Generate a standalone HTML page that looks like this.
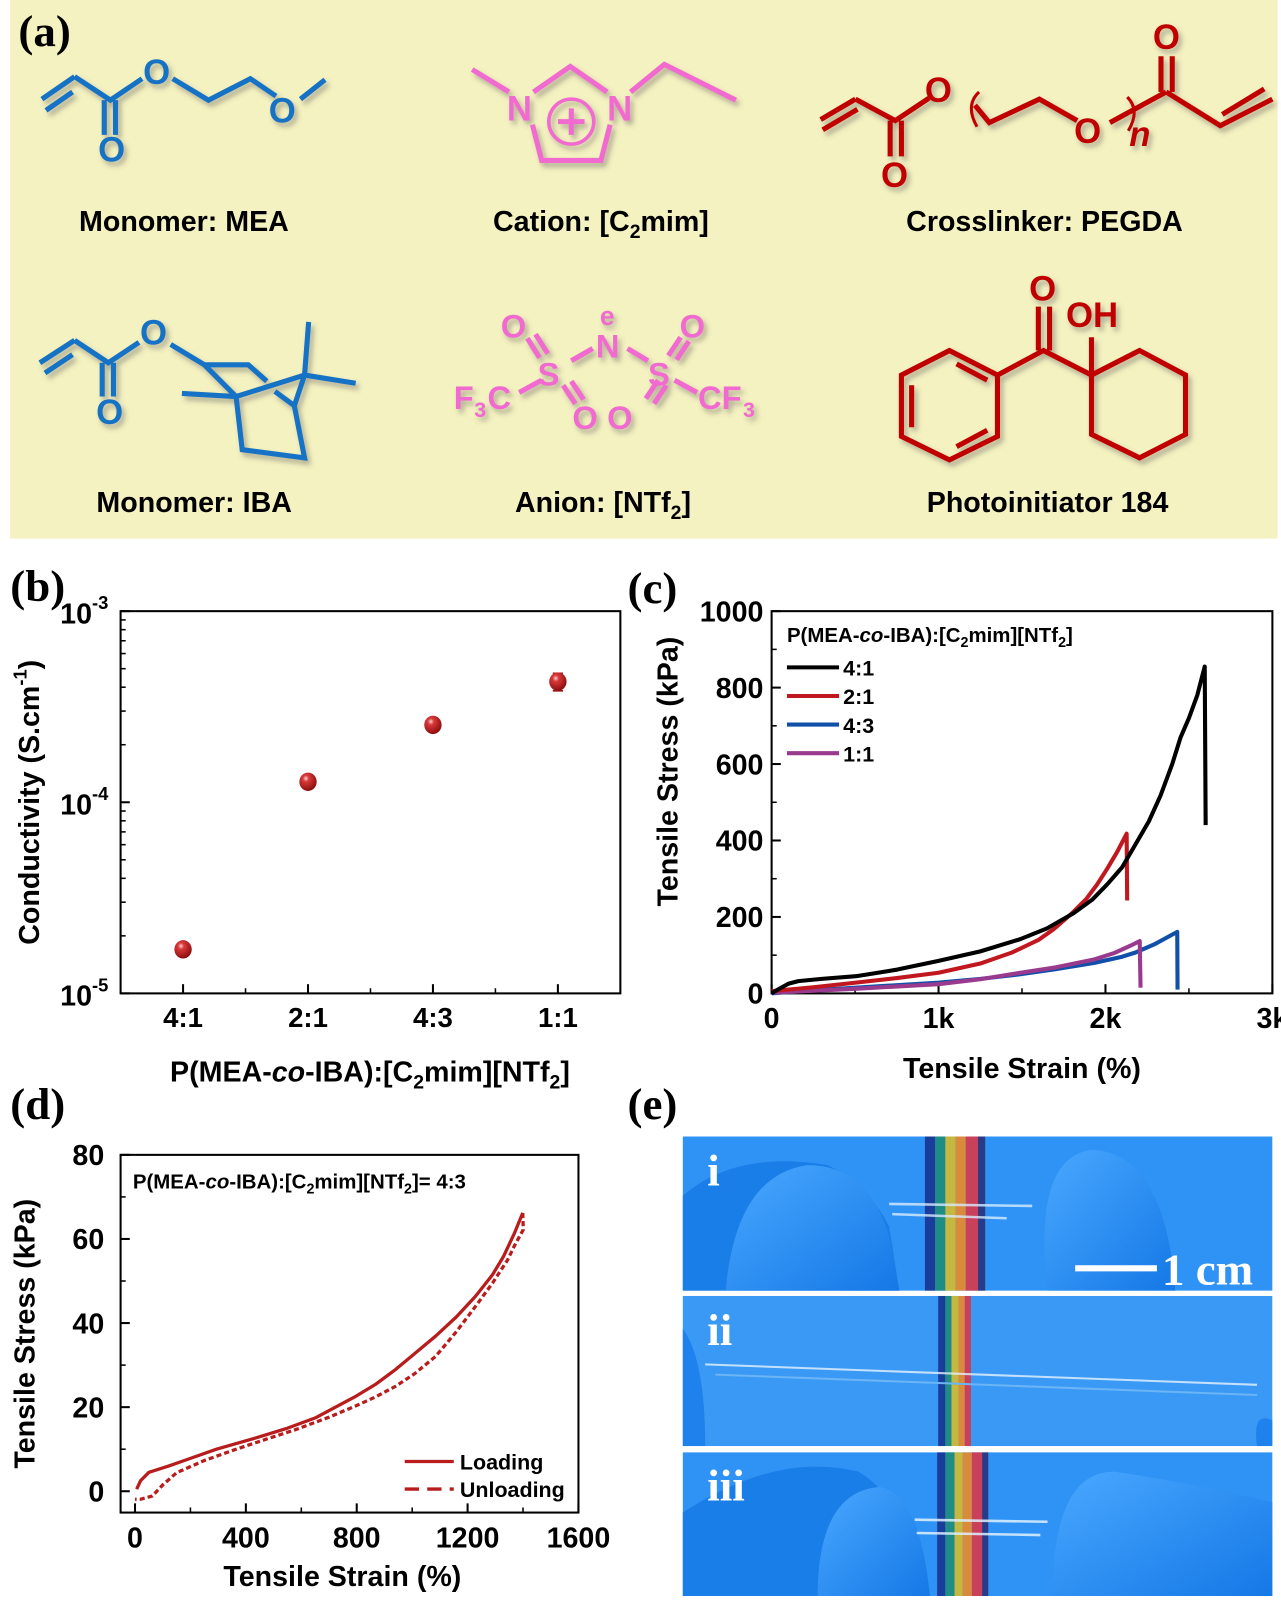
<!DOCTYPE html>
<html><head><meta charset="utf-8">
<style>
html,body{margin:0;padding:0;background:#fff;}
body{width:1281px;height:1596px;position:relative;overflow:hidden;font-family:"Liberation Sans",sans-serif;}
svg text{font-family:"Liberation Sans",sans-serif;}
.pl{font-family:"Liberation Serif",serif;font-weight:bold;}
</style></head>
<body>
<svg id="fig" width="1281" height="1596" viewBox="0 0 1281 1596" xmlns="http://www.w3.org/2000/svg">
<defs>
<radialGradient id="ball" cx="0.38" cy="0.32" r="0.7">
<stop offset="0" stop-color="#ffd0d0"/><stop offset="0.25" stop-color="#d83a3a"/><stop offset="1" stop-color="#8a0c0c"/>
</radialGradient>
<filter id="sh" x="-10%" y="-10%" width="130%" height="130%"><feDropShadow dx="3" dy="4" stdDeviation="2.5" flood-color="#555" flood-opacity="0.45"/></filter>
<linearGradient id="glv" x1="0" y1="0" x2="1" y2="1"><stop offset="0" stop-color="#4aa8ff"/><stop offset="1" stop-color="#1478e6"/></linearGradient>
<clipPath id="c1"><rect x="668" y="1112" width="577" height="151"/></clipPath>
<clipPath id="c2"><rect x="668" y="1268" width="577" height="147"/></clipPath>
<clipPath id="c3"><rect x="668" y="1421" width="577" height="142"/></clipPath>
</defs>
<g transform="scale(1.022)">
<!-- Panel a -->
<g>
<rect x="10" y="0" width="1240" height="527" fill="#f5f2c1"/>
<text class="pl" x="18" y="45" font-size="44">(a)</text>

<g stroke="#1472c4" stroke-width="5" fill="none" filter="url(#sh)">
<path d="M41 97 L73 75 M45 108 L71 90 M73 75 L108 98 L139 77 M102 98 L102 132 M113 98 L113 132 M169 77 L204 98 L245 77 L270 94 M294 97 L318 78"/>
<g fill="#1472c4" stroke="none" font-size="34" font-weight="bold"><text x="96" y="158">O</text><text x="140" y="82">O</text><text x="263" y="120">O</text></g>
</g>
<g stroke="#f06ad0" stroke-width="5" fill="none" filter="url(#sh)">
<path d="M462 68 L498 90 M522 90 L558 65 L594 90 M521 122 L530 157 L588 157 L597 122 M617 90 L650 63 L720 98"/>
<circle cx="559" cy="119" r="22" stroke-width="3.5"/>
<path d="M559 106 L559 132 M546 119 L572 119" stroke-width="5"/>
<g fill="#f06ad0" stroke="none" font-size="34" font-weight="bold"><text x="496" y="118">N</text><text x="594" y="118">N</text></g>
</g>
<g stroke="#c00000" stroke-width="5" fill="none" filter="url(#sh)">
<path d="M803 117 L837 97 M805 127 L839 107 M837 97 L876 118 L909 96 M871 118 L871 153 M882 118 L882 153 M954 103 L968 120 L1017 97 L1054 118 M1086 120 L1141 90 M1136 90 L1136 55 M1147 90 L1147 55 M1141 90 L1194 123 L1245 97 M1196 112 L1237 87"/>
<path d="M958 90 Q944 103 956 124 M1103 95 Q1116 108 1104 128" stroke-width="3"/>
<g fill="#c00000" stroke="none" font-size="34" font-weight="bold"><text x="862" y="183">O</text><text x="905" y="100">O</text><text x="1051" y="140">O</text><text x="1128" y="48">O</text><text x="1105" y="143" font-family="Liberation Serif" font-style="italic" font-weight="bold">n</text></g>
</g>
<g stroke="#1472c4" stroke-width="5" fill="none" filter="url(#sh)">
<path d="M39 355 L73 333 M44 365 L71 347 M73 333 L106 355 L136 335 M100 355 L100 388 M111 355 L111 388 M167 337 L200 357 L243 357 L261 373 M200 357 L231 388 M178 385 L231 388 L298 367 L302 315 M298 367 L348 375 M269 383 L288 397 M231 388 L237 440 L298 448 L288 397 L298 367"/>
<g fill="#1472c4" stroke="none" font-size="34" font-weight="bold"><text x="94" y="415">O</text><text x="137" y="337">O</text></g>
</g>
<g stroke="#f06ad0" stroke-width="5" fill="none" filter="url(#sh)">
<path d="M508 384 L530 372 M516 331 L528 350 M524 327 L536 346 M551 377 L563 395 M559 373 L571 391 M559 353 L580 341 M614 341 L634 353 M644 372 L632 390 M652 377 L640 395 M654 348 L666 330 M662 352 L674 334 M660 372 L682 384"/>
<g fill="#f06ad0" stroke="none" font-size="32" font-weight="bold">
<text x="444" y="400">F</text><text x="464" y="408" font-size="21">3</text><text x="477" y="400">C</text>
<text x="526" y="377">S</text><text x="634" y="377">S</text>
<text x="490" y="330">O</text><text x="665" y="330">O</text>
<text x="560" y="420">O</text><text x="594" y="420">O</text>
<text x="583" y="350">N</text><text x="587" y="318" font-size="26">e</text>
<text x="683" y="400">CF</text><text x="727" y="408" font-size="21">3</text>
</g>
</g>
<g stroke="#c00000" stroke-width="5" fill="none" filter="url(#sh)">
<path d="M929 343 L976 367 L976 427 L929 450 L882 427 L882 367 Z M892 377 L892 418 M936 356 L966 372 M936 437 L966 421 M976 367 L1021 343 L1068 367 M1016 343 L1016 300 M1027 343 L1027 300 M1068 367 L1068 330 M1068 367 L1115 343 L1160 367 L1160 425 L1115 448 L1068 425 Z"/>
<g fill="#c00000" stroke="none" font-size="34" font-weight="bold"><text x="1007" y="294">O</text><text x="1043" y="320">OH</text></g>
</g>
<g font-size="28" font-weight="bold" text-anchor="middle" fill="#000">
<text x="180" y="226">Monomer: MEA</text>
<text x="588" y="226">Cation: [C<tspan font-size="19" dy="7">2</tspan><tspan dy="-7">mim]</tspan></text>
<text x="1022" y="226">Crosslinker: PEGDA</text>
<text x="190" y="501">Monomer: IBA</text>
<text x="590" y="501">Anion: [NTf<tspan font-size="19" dy="7">2</tspan><tspan dy="-7">]</tspan></text>
<text x="1025" y="501">Photoinitiator 184</text>
</g>
</g>

<text class="pl" x="10" y="588" font-size="44">(b)</text>
<text class="pl" x="614" y="590" font-size="44">(c)</text>
<text class="pl" x="10" y="1095" font-size="44">(d)</text>
<text class="pl" x="614" y="1095" font-size="44">(e)</text>

<g id="chartB"></g>
<g id="chartC"></g>
<g id="chartD"></g>

<!-- Panel e photos -->
<g>
<g clip-path="url(#c1)">
<rect x="668" y="1112" width="577" height="151" fill="#2f93f5"/>
<path d="M668 1170 Q720 1125 810 1140 Q850 1160 870 1200 L880 1263 L668 1263Z" fill="#1a7ee8"/>
<path d="M710 1263 Q720 1150 790 1140 Q850 1140 870 1210 L880 1263Z" fill="url(#glv)"/>
<path d="M1025 1263 Q1010 1130 1070 1125 Q1140 1130 1150 1263Z" fill="url(#glv)"/>
<g><rect x="905" y="1112" width="10" height="151" fill="#1a3c9a"/><rect x="915" y="1112" width="10" height="151" fill="#1f8c86"/><rect x="925" y="1112" width="10" height="151" fill="#c4b840"/><rect x="935" y="1112" width="10" height="151" fill="#d98a3c"/><rect x="945" y="1112" width="12" height="151" fill="#c9405a"/><rect x="957" y="1112" width="7" height="151" fill="#2a3a86"/></g>
<path d="M870 1178 L1010 1180 M873 1188 L985 1192" stroke="#d8ecff" stroke-width="2.5" opacity="0.8"/>
<text class="pl" x="692" y="1160" font-size="44" fill="#fff">i</text>
<rect x="1052" y="1238" width="80" height="6" fill="#fff"/>
<text class="pl" x="1137" y="1257" font-size="44" fill="#fff">1 cm</text>
</g>
<g clip-path="url(#c2)">
<rect x="668" y="1268" width="577" height="147" fill="#3a99f5"/>
<path d="M668 1300 Q690 1330 690 1415 L668 1415Z" fill="#1f82ec"/>
<path d="M1245 1390 Q1225 1380 1230 1415 L1245 1415Z" fill="#1f82ec"/>
<g><rect x="918" y="1268" width="7" height="147" fill="#1a3c9a"/><rect x="925" y="1268" width="6" height="147" fill="#1f8c86"/><rect x="931" y="1268" width="7" height="147" fill="#c4b840"/><rect x="938" y="1268" width="6" height="147" fill="#d98a3c"/><rect x="944" y="1268" width="6" height="147" fill="#c9405a"/></g>
<path d="M690 1335 L1230 1355" stroke="#e6f2ff" stroke-width="2" opacity="0.8"/>
<path d="M700 1345 L1230 1365" stroke="#6bb4f5" stroke-width="2"/>
<text class="pl" x="692" y="1316" font-size="44" fill="#fff">ii</text>
</g>
<g clip-path="url(#c3)">
<rect x="668" y="1421" width="577" height="142" fill="#2f93f5"/>
<path d="M668 1480 Q760 1420 840 1440 Q890 1470 905 1563 L668 1563Z" fill="#1a7ee8"/>
<path d="M800 1563 Q800 1460 860 1455 Q900 1460 910 1563Z" fill="url(#glv)"/>
<path d="M1030 1563 Q1030 1440 1090 1440 Q1160 1450 1245 1470 L1245 1563Z" fill="url(#glv)"/>
<g><rect x="917" y="1421" width="8" height="142" fill="#1a3c9a"/><rect x="925" y="1421" width="9" height="142" fill="#1f8c86"/><rect x="934" y="1421" width="8" height="142" fill="#c4b840"/><rect x="942" y="1421" width="9" height="142" fill="#d98a3c"/><rect x="951" y="1421" width="10" height="142" fill="#c9405a"/><rect x="961" y="1421" width="6" height="142" fill="#2a3a86"/></g>
<path d="M895 1487 L1025 1489 M897 1500 L1018 1502" stroke="#e0f0ff" stroke-width="2.5" opacity="0.85"/>
<text class="pl" x="692" y="1468" font-size="44" fill="#fff">iii</text>
</g>
</g>
</g>
</svg>

<script>
// ---------- Panel b data ----------
const catsB = ["4:1","2:1","4:3","1:1"];
const condB = [1.70e-5, 1.28e-4, 2.54e-4, 4.28e-4];
const errB = [0, 0, 0, 0.45e-4];
const yTicksB = [-5, -4, -3];

// ---------- Panel c data ----------
const legendC = ["4:1","2:1","4:3","1:1"];
const colorsC = ["#000000","#c0181e","#1050a8","#9a3a8e"];
const strain41 = [0,37,100,160,300,505,750,1000,1250,1490,1650,1810,1920,2010,2100,2180,2260,2330,2400,2450,2500,2550,2595,2600];
const stress41 = [0,10,25,32,38,45,62,85,110,142,170,210,245,285,330,390,450,518,600,670,720,780,855,440];
const strain21 = [0,250,505,750,1000,1250,1440,1600,1690,1800,1885,1950,2010,2070,2127,2130];
const stress21 = [6,16,28,40,54,78,107,140,168,210,247,285,326,370,418,243];
const strain43 = [0,250,505,1000,1250,1490,1700,1935,2100,2180,2300,2430,2432];
const stress43 = [0,8,15,28,38,50,63,80,96,107,130,161,10];
const strain11 = [0,500,1000,1250,1490,1700,1935,2050,2150,2205,2210];
const stress11 = [2,12,24,37,54,68,89,105,125,137,15];
const xTicksC = [0,1000,2000,3000];
const xTickLabelsC = ["0","1k","2k","3k"];
const yTicksC = [0,200,400,600,800,1000];

// ---------- Panel d data ----------
const loadStrain = [6,20,50,121,200,294,437,550,653,797,870,941,1010,1085,1160,1229,1290,1330,1370,1399];
const loadStress = [0.5,2.5,4.5,6,7.8,10,12.7,15,17.5,22.6,25.5,29,32.8,36.9,41.5,46.4,51.5,55.9,61.5,66.2];
const unloadStrain = [1399,1401,1370,1344,1290,1229,1160,1085,1010,941,870,797,700,581,470,365,250,150,100,63,20,0];
const unloadStress = [66.2,62.2,58.5,55,49.5,44,38,32.1,28,25,22.5,20.3,17.6,14.7,12.3,10,7.3,4.4,1.5,-1.1,-1.9,-1.9];
const xTicksD = [0,400,800,1200,1600];
const yTicksD = [0,20,40,60,80];

const NS = "http://www.w3.org/2000/svg";
function mk(parent, tag, attrs){const e=document.createElementNS(NS,tag);for(const k in attrs)e.setAttribute(k,attrs[k]);parent.appendChild(e);return e;}
function lin(d0,d1,p0,p1){return v=>p0+(v-d0)/(d1-d0)*(p1-p0);}

// ===== Chart B =====
(function(){
 const g=document.getElementById('chartB');
 const L=118,R=607,T=598,B=972;
 const x=lin(-0.5,3.5,L,R);
 const y=v=>lin(-5,-3,B,T)(Math.log10(v));
 const frame=mk(g,'rect',{x:L,y:T,width:R-L,height:B-T,fill:'none',stroke:'#000','stroke-width':2});
 
 
 for(let d=-5;d<-3;d++){for(let m=2;m<=9;m++){const yy=y(m*Math.pow(10,d));mk(g,'line',{x1:L,x2:L+5,y1:yy,y2:yy,stroke:'#000','stroke-width':1.5});}}
 yTicksB.forEach(t=>{const yy=lin(-5,-3,B,T)(t);mk(g,'line',{x1:L,x2:L+9,y1:yy,y2:yy,stroke:'#000','stroke-width':2});
  const tx=mk(g,'text',{x:L-12,y:yy+12,'text-anchor':'end','font-size':28,'font-weight':'bold'});
  
  
  tx.innerHTML='10<tspan font-size="18" dy="-14">'+t+'</tspan>';});
 for(let i=0;i<catsB.length;i++){const xx=x(i);mk(g,'line',{x1:xx,x2:xx,y1:B,y2:B-9,stroke:'#000','stroke-width':2});
  if(i<catsB.length-1)mk(g,'line',{x1:x(i+0.5),x2:x(i+0.5),y1:B,y2:B-5,stroke:'#000','stroke-width':1.5});
  const tx=mk(g,'text',{x:xx,y:B+33,'text-anchor':'middle','font-size':27,'font-weight':'bold'});tx.textContent=catsB[i];
  
  }
 for(let i=0;i<condB.length;i++){
  if(errB[i]>0){const y1=y(condB[i]+errB[i]),y2=y(condB[i]-errB[i]);
   mk(g,'path',{d:`M${x(i)} ${y1}L${x(i)} ${y2}M${x(i)-5} ${y1}L${x(i)+5} ${y1}M${x(i)-5} ${y2}L${x(i)+5} ${y2}`,stroke:'#a01010','stroke-width':1.5});}
  const c=mk(g,'ellipse',{cx:x(i),cy:y(condB[i]),rx:8.5,ry:9,fill:'url(#ball)'});
  
  
 }
 const yt=mk(g,'text',{x:0,y:0,transform:'translate(38,785) rotate(-90)','text-anchor':'middle','font-size':28,'font-weight':'bold'});
 
 
 yt.innerHTML='Conductivity (S.cm<tspan font-size="18" dy="-12">-1</tspan><tspan dy="12">)</tspan>';
 const xt=mk(g,'text',{x:362,y:1058,'text-anchor':'middle','font-size':28,'font-weight':'bold'});
 
 
 xt.innerHTML='P(MEA-<tspan font-style="italic">co</tspan>-IBA):[C<tspan font-size="19" dy="7">2</tspan><tspan dy="-7">mim][NTf</tspan><tspan font-size="19" dy="7">2</tspan><tspan dy="-7">]</tspan>';
})();

// ===== Chart C =====
(function(){
 const g=document.getElementById('chartC');
 const L=755,R=1245,T=598,B=972;
 const x=lin(0,3000,L,R), y=lin(0,1000,B,T);
 const fr=mk(g,'rect',{x:L,y:T,width:R-L,height:B-T,fill:'none',stroke:'#000','stroke-width':2});
 
 
 for(let v=500;v<3000;v+=1000)mk(g,'line',{x1:x(v),x2:x(v),y1:B,y2:B-5,stroke:'#000','stroke-width':1.5});
 for(let v=100;v<1000;v+=200)mk(g,'line',{x1:L,x2:L+5,y1:y(v),y2:y(v),stroke:'#000','stroke-width':1.5});
 xTicksC.forEach((t,i)=>{mk(g,'line',{x1:x(t),x2:x(t),y1:B,y2:B-9,stroke:'#000','stroke-width':2});
  const tx=mk(g,'text',{x:x(t),y:B+34,'text-anchor':'middle','font-size':28,'font-weight':'bold'});tx.textContent=xTickLabelsC[i];
  
  });
 yTicksC.forEach(t=>{mk(g,'line',{x1:L,x2:L+9,y1:y(t),y2:y(t),stroke:'#000','stroke-width':2});
  const tx=mk(g,'text',{x:L-8,y:y(t)+10,'text-anchor':'end','font-size':28,'font-weight':'bold'});tx.textContent=t;
  
  });
 const series=[[strain41,stress41],[strain21,stress21],[strain43,stress43],[strain11,stress11]];
 const order=[2,3,1,0];
 order.forEach(i=>{const [xs,ys]=series[i];
  const d=xs.map((v,k)=>(k?'L':'M')+x(v).toFixed(1)+' '+y(ys[k]).toFixed(1)).join('');
  const p=mk(g,'path',{d:d,fill:'none',stroke:colorsC[i],'stroke-width':4,'stroke-linejoin':'round'});
  
  });
 const lt=mk(g,'text',{x:770,y:628,'font-size':20,'font-weight':'bold'});
 
 
 lt.innerHTML='P(MEA-<tspan font-style="italic">co</tspan>-IBA):[C<tspan font-size="14" dy="5">2</tspan><tspan dy="-5">mim][NTf</tspan><tspan font-size="14" dy="5">2</tspan><tspan dy="-5">]</tspan>';
 legendC.forEach((n,i)=>{const yy=653+i*28;
  const ln=mk(g,'line',{x1:770,x2:821,y1:yy,y2:yy,stroke:colorsC[i],'stroke-width':4});
  
  
  const t=mk(g,'text',{x:825,y:yy+8,'font-size':21,'font-weight':'bold'});t.textContent=n;
  
  });
 const yt=mk(g,'text',{x:0,y:0,transform:'translate(663,755) rotate(-90)','text-anchor':'middle','font-size':28,'font-weight':'bold'});yt.textContent='Tensile Stress (kPa)';
 
 
 const xt=mk(g,'text',{x:1000,y:1055,'text-anchor':'middle','font-size':28,'font-weight':'bold'});xt.textContent='Tensile Strain (%)';
 
 
})();

// ===== Chart D =====
(function(){
 const g=document.getElementById('chartD');
 const L=118,R=566,T=1130,B=1480;
 const x=lin(-52,1600,L,R), y=lin(-5.07,80,B,T);
 const fr=mk(g,'rect',{x:L,y:T,width:R-L,height:B-T,fill:'none',stroke:'#000','stroke-width':2});
 
 
 for(let v=200;v<1600;v+=400)mk(g,'line',{x1:x(v),x2:x(v),y1:B,y2:B-5,stroke:'#000','stroke-width':1.5});
 for(let v=10;v<80;v+=20)mk(g,'line',{x1:L,x2:L+5,y1:y(v),y2:y(v),stroke:'#000','stroke-width':1.5});
 xTicksD.forEach(t=>{mk(g,'line',{x1:x(t),x2:x(t),y1:B,y2:B-9,stroke:'#000','stroke-width':2});
  const tx=mk(g,'text',{x:x(t),y:B+34,'text-anchor':'middle','font-size':28,'font-weight':'bold'});tx.textContent=t;
  
  });
 yTicksD.forEach(t=>{mk(g,'line',{x1:L,x2:L+9,y1:y(t),y2:y(t),stroke:'#000','stroke-width':2});
  const tx=mk(g,'text',{x:L-16,y:y(t)+10,'text-anchor':'end','font-size':28,'font-weight':'bold'});tx.textContent=t;
  
  });
 const pl=mk(g,'path',{d:loadStrain.map((v,k)=>(k?'L':'M')+x(v).toFixed(1)+' '+y(loadStress[k]).toFixed(1)).join(''),fill:'none',stroke:'#b81c1c','stroke-width':3.2,'stroke-linejoin':'round'});
 
 
 const pu=mk(g,'path',{d:unloadStrain.map((v,k)=>(k?'L':'M')+x(v).toFixed(1)+' '+y(unloadStress[k]).toFixed(1)).join(''),fill:'none',stroke:'#b81c1c','stroke-width':3.2,'stroke-dasharray':'5 3'});
 
 
 const an=mk(g,'text',{x:130,y:1163,'font-size':20,'font-weight':'bold'});
 
 
 an.innerHTML='P(MEA-<tspan font-style="italic">co</tspan>-IBA):[C<tspan font-size="14" dy="5">2</tspan><tspan dy="-5">mim][NTf</tspan><tspan font-size="14" dy="5">2</tspan><tspan dy="-5">]= 4:3</tspan>';
 const l1=mk(g,'line',{x1:396,x2:444,y1:1430,y2:1430,stroke:'#b81c1c','stroke-width':3.2});
 
 
 const t1=mk(g,'text',{x:450,y:1438,'font-size':21,'font-weight':'bold'});t1.textContent='Loading';
 
 
 const l2=mk(g,'line',{x1:396,x2:444,y1:1457,y2:1457,stroke:'#b81c1c','stroke-width':3.2,'stroke-dasharray':'14 8'});
 
 
 const t2=mk(g,'text',{x:450,y:1465,'font-size':21,'font-weight':'bold'});t2.textContent='Unloading';
 
 
 const yt=mk(g,'text',{x:0,y:0,transform:'translate(34,1305) rotate(-90)','text-anchor':'middle','font-size':28,'font-weight':'bold'});yt.textContent='Tensile Stress (kPa)';
 
 
 const xt=mk(g,'text',{x:335,y:1552,'text-anchor':'middle','font-size':28,'font-weight':'bold'});xt.textContent='Tensile Strain (%)';
 
 
})();
</script>
</body></html>
